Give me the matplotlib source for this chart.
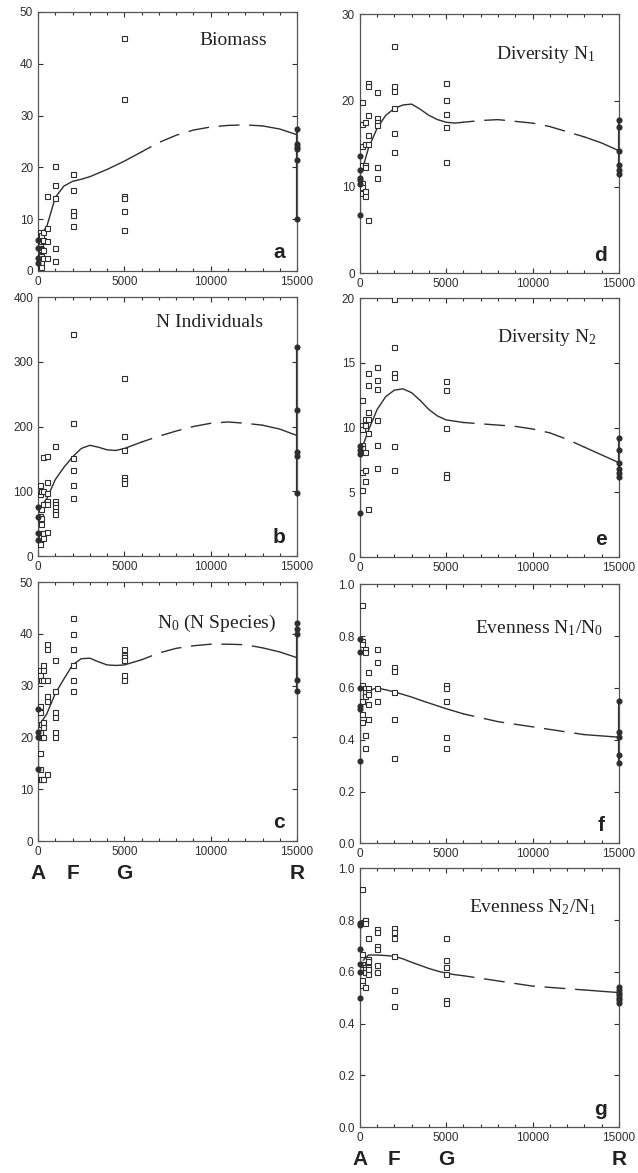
import numpy as np
import matplotlib
matplotlib.use("Agg")
import matplotlib.pyplot as plt
from matplotlib.ticker import MultipleLocator, FormatStrFormatter

# sampling stations (depth-ish distance axis) for the open symbols
stations = [100, 200, 300, 500, 1000, 2000, 5000]

# open symbols, one list per station (same order as stations)
bio_open = [[7.5, 6.5, 6.0, 5.5, 5.0, 4.5, 3.5, 3.0, 2.0, 1.5, 1.0],
            [7.0, 5.8, 4.2, 2.8, 1.8, 0.8],
            [7.6, 6.0, 4.0, 2.5],
            [14.5, 8.3, 5.7, 2.5],
            [20.2, 16.5, 14.0, 4.5, 2.0],
            [18.8, 15.6, 11.5, 10.8, 8.7],
            [45.0, 33.2, 14.5, 14.0, 11.6, 8.0]]
ind_open = [[110, 95, 62, 55, 35, 25, 18],
            [100, 73, 58, 50, 30],
            [153, 100, 80, 35, 28],
            [155, 115, 98, 85, 80, 37],
            [170, 85, 80, 75, 70, 65],
            [343, 205, 152, 133, 110, 90],
            [275, 186, 164, 122, 118, 112]]
spp_open = [[33, 32, 26, 25, 21, 17, 14, 12],
            [31, 22.5, 20, 12],
            [34, 33, 31, 23, 22, 20, 12],
            [38, 37, 31, 28, 27, 13],
            [35, 29, 25, 24, 21, 20],
            [43, 40, 37, 34, 31, 29],
            [37, 36, 35.5, 35, 32, 31]]
n1_open = [[19.8, 17.3, 14.8, 12.5, 10.5, 10.0, 9.3],
           [],
           [17.5, 15.0, 12.6, 12.3, 9.5, 9.0],
           [22.0, 21.7, 18.3, 16.0, 15.0, 6.2],
           [21.0, 18.0, 17.5, 17.2, 12.3, 11.0],
           [26.3, 21.7, 21.1, 19.2, 16.3, 14.1],
           [22.0, 20.1, 18.5, 17.0, 12.9]]
n2_open = [[12.1, 10.2, 9.9, 8.7, 8.4, 6.6, 5.2],
           [],
           [10.7, 10.2, 8.1, 6.7, 5.9],
           [14.2, 13.3, 11.2, 10.7, 9.6, 3.7],
           [14.7, 13.7, 13.0, 10.6, 8.7, 6.9],
           [19.9, 16.2, 14.2, 13.9, 8.6, 6.7],
           [13.6, 12.9, 10.0, 6.4, 6.2]]
e10_open = [[0.92, 0.78, 0.77, 0.61, 0.55, 0.50, 0.47],
            [],
            [0.75, 0.74, 0.60, 0.585, 0.57, 0.42, 0.37],
            [0.66, 0.60, 0.585, 0.575, 0.54, 0.48],
            [0.75, 0.70, 0.60, 0.55],
            [0.68, 0.665, 0.585, 0.48, 0.33],
            [0.61, 0.60, 0.55, 0.41, 0.37]]
e21_open = [[0.92, 0.79, 0.67, 0.63, 0.57, 0.55],
            [],
            [0.80, 0.80, 0.79, 0.62, 0.61, 0.60, 0.54],
            [0.73, 0.65, 0.64, 0.62, 0.61, 0.59],
            [0.765, 0.755, 0.70, 0.69, 0.625, 0.60],
            [0.77, 0.755, 0.73, 0.66, 0.53, 0.47],
            [0.73, 0.645, 0.62, 0.59, 0.49, 0.48]]

# filled symbols at the two end stations (A at 0, R at 15000)
bio_A = [6.0, 4.5, 2.5, 1.5]
bio_R = [27.5, 24.5, 24.0, 23.5, 21.5, 10.0]
ind_A = [75, 60, 35, 25]
ind_R = [323, 225, 160, 155, 97]
spp_A = [25.5, 21, 20, 14]
spp_R = [42, 41, 40, 31, 29]
n1_A = [13.6, 12.0, 11.0, 10.8, 10.3, 6.7]
n1_R = [17.8, 17.0, 14.2, 12.5, 12.0, 11.5]
n2_A = [8.6, 8.3, 8.0, 3.4]
n2_R = [9.2, 8.3, 7.3, 6.8, 6.5, 6.2]
e10_A = [0.79, 0.74, 0.60, 0.53, 0.52, 0.32]
e10_R = [0.55, 0.43, 0.41, 0.34, 0.31]
e21_A = [0.79, 0.78, 0.69, 0.63, 0.60, 0.50]
e21_R = [0.54, 0.53, 0.52, 0.51, 0.50, 0.49, 0.48]

# fitted curves
curve_x = [200, 500, 1000, 1500, 2000, 2500, 3000, 3500, 4000, 4500, 5000,
           5500, 6000, 7000, 8000, 9000, 10000, 11000, 12000, 13000, 14000, 15000]
bio_fit = [7.3, 8.5, 14.2, 16.4, 17.3, 17.7, 18.2, 18.9, 19.6, 20.4, 21.2,
           22.1, 23.0, 24.8, 26.2, 27.2, 27.8, 28.1, 28.2, 28.0, 27.4, 26.3]
ind_fit = [78, 88, 118, 137, 153, 166, 171, 168, 164, 163, 166,
           171, 176, 185, 193, 200, 205, 207, 205, 202, 196, 186]
spp_fit = [23.0, 24.5, 28.5, 31.3, 34.0, 35.2, 35.3, 34.6, 34.0, 33.9, 34.0,
           34.5, 35.0, 36.3, 37.2, 37.7, 38.0, 38.0, 37.9, 37.3, 36.5, 35.4]
n1_fit = [12.4, 14.5, 16.8, 18.3, 19.1, 19.5, 19.6, 19.0, 18.3, 17.8, 17.5,
          17.4, 17.5, 17.7, 17.8, 17.6, 17.4, 17.0, 16.4, 15.8, 15.1, 14.2]
n2_fit = [8.7, 9.8, 11.4, 12.4, 12.9, 13.0, 12.7, 12.1, 11.4, 10.9, 10.6,
          10.5, 10.4, 10.3, 10.2, 10.1, 9.9, 9.6, 9.1, 8.5, 7.9, 7.3]
e10_fit = [0.57, 0.59, 0.60, 0.593, 0.585, 0.575, 0.565, 0.553, 0.542, 0.531, 0.52,
           0.51, 0.50, 0.485, 0.47, 0.46, 0.45, 0.44, 0.43, 0.42, 0.415, 0.41]
e21_fit = [0.645, 0.665, 0.665, 0.663, 0.66, 0.65, 0.637, 0.625, 0.613, 0.603, 0.595,
           0.589, 0.585, 0.575, 0.565, 0.555, 0.545, 0.54, 0.535, 0.53, 0.525, 0.52]

site_labels = ["A", "F", "G", "R"]
site_pos = [0, 2000, 5000, 15000]

col = "#2e2e2e"
serif = ["Liberation Serif", "DejaVu Serif"]
sans = ["Liberation Sans", "DejaVu Sans"]
plt.rcParams["font.family"] = sans

fig = plt.figure(figsize=(6.38, 11.73), dpi=100)

W = 0.406
H = 0.2208
panels = [
    # left, bottom, open, A, R, fit, ymax, ystep, title, title pos, letter, fmt
    (0.0596, 0.769, bio_open, bio_A, bio_R, bio_fit, 50, 10, "Biomass", (0.885, 0.89), "a", "%d"),
    (0.0596, 0.526, ind_open, ind_A, ind_R, ind_fit, 400, 100, "N Individuals", (0.87, 0.90), "b", "%d"),
    (0.0596, 0.283, spp_open, spp_A, spp_R, spp_fit, 50, 10,
     r"$\mathregular{N_0}$ (N Species)", (0.92, 0.84), "c", "%d"),
    (0.564, 0.767, n1_open, n1_A, n1_R, n1_fit, 30, 10,
     r"Diversity $\mathregular{N_1}$", (0.91, 0.846), "d", "%d"),
    (0.564, 0.525, n2_open, n2_A, n2_R, n2_fit, 20, 5,
     r"Diversity $\mathregular{N_2}$", (0.915, 0.85), "e", "%d"),
    (0.564, 0.281, e10_open, e10_A, e10_R, e10_fit, 1.0, 0.2,
     r"Evenness $\mathregular{N_1/N_0}$", (0.94, 0.83), "f", "%.1f"),
    (0.564, 0.039, e21_open, e21_A, e21_R, e21_fit, 1.0, 0.2,
     r"Evenness $\mathregular{N_2/N_1}$", (0.915, 0.85), "g", "%.1f"),
]

cx = np.array(curve_x)
for (left, bottom, opn, ya, yr, fit, ymax, ystep, title, tpos, letter, fmt) in panels:
    ax = fig.add_axes([left, bottom, W, H])
    fit = np.array(fit)

    xs, ys = [], []
    for s, vals in zip(stations, opn):
        xs += [s] * len(vals)
        ys += vals
    ax.plot(xs, ys, ls="none", marker="s", ms=3.6, mfc="white", mec=col, mew=0.8, zorder=3)

    # range bars and filled symbols at the end stations
    ax.vlines([0, 15000], [min(ya), min(yr)], [max(ya), max(yr)], color=col, lw=1.6, zorder=2)
    ax.plot([0] * len(ya), ya, ls="none", marker="o", ms=3.4, color=col, zorder=4, clip_on=False)
    ax.plot([15000] * len(yr), yr, ls="none", marker="o", ms=3.4, color=col, zorder=4, clip_on=False)

    m1 = cx <= 6000
    m2 = (cx >= 6000) & (cx <= 13000)
    m3 = cx >= 13000
    ax.plot(cx[m1], fit[m1], color=col, lw=1.0)
    ax.plot(cx[m2], fit[m2], color=col, lw=1.0, ls=(7, (15, 7)))
    ax.plot(cx[m3], fit[m3], color=col, lw=1.0)

    ax.set_xlim(0, 15000)
    ax.set_ylim(0, ymax)
    ax.xaxis.set_major_locator(MultipleLocator(5000))
    ax.xaxis.set_minor_locator(MultipleLocator(1000))
    ax.yaxis.set_major_locator(MultipleLocator(ystep))
    ax.yaxis.set_major_formatter(FormatStrFormatter(fmt))
    ax.tick_params(which="both", direction="in", top=True, right=True,
                   labelsize=8.5, colors=col, width=0.8)
    ax.tick_params(which="major", length=3.5)
    ax.tick_params(which="minor", length=2)
    for sp in ax.spines.values():
        sp.set_color("#555555")
        sp.set_linewidth(0.9)

    ax.text(tpos[0], tpos[1], title, transform=ax.transAxes, ha="right", va="center",
            fontsize=14, family=serif, color="#222222")
    ax.text(0.93, 0.07, letter, transform=ax.transAxes, ha="center", va="center",
            fontsize=15, fontweight="bold", color="#222222")

    if letter in ("c", "g"):
        trans = ax.get_xaxis_transform()
        for lab, p in zip(site_labels, site_pos):
            ax.text(p, -0.125, lab, transform=trans, ha="center", va="center",
                    fontsize=15, fontweight="bold", color="#222222")

fig.savefig("out.png", dpi=100)
